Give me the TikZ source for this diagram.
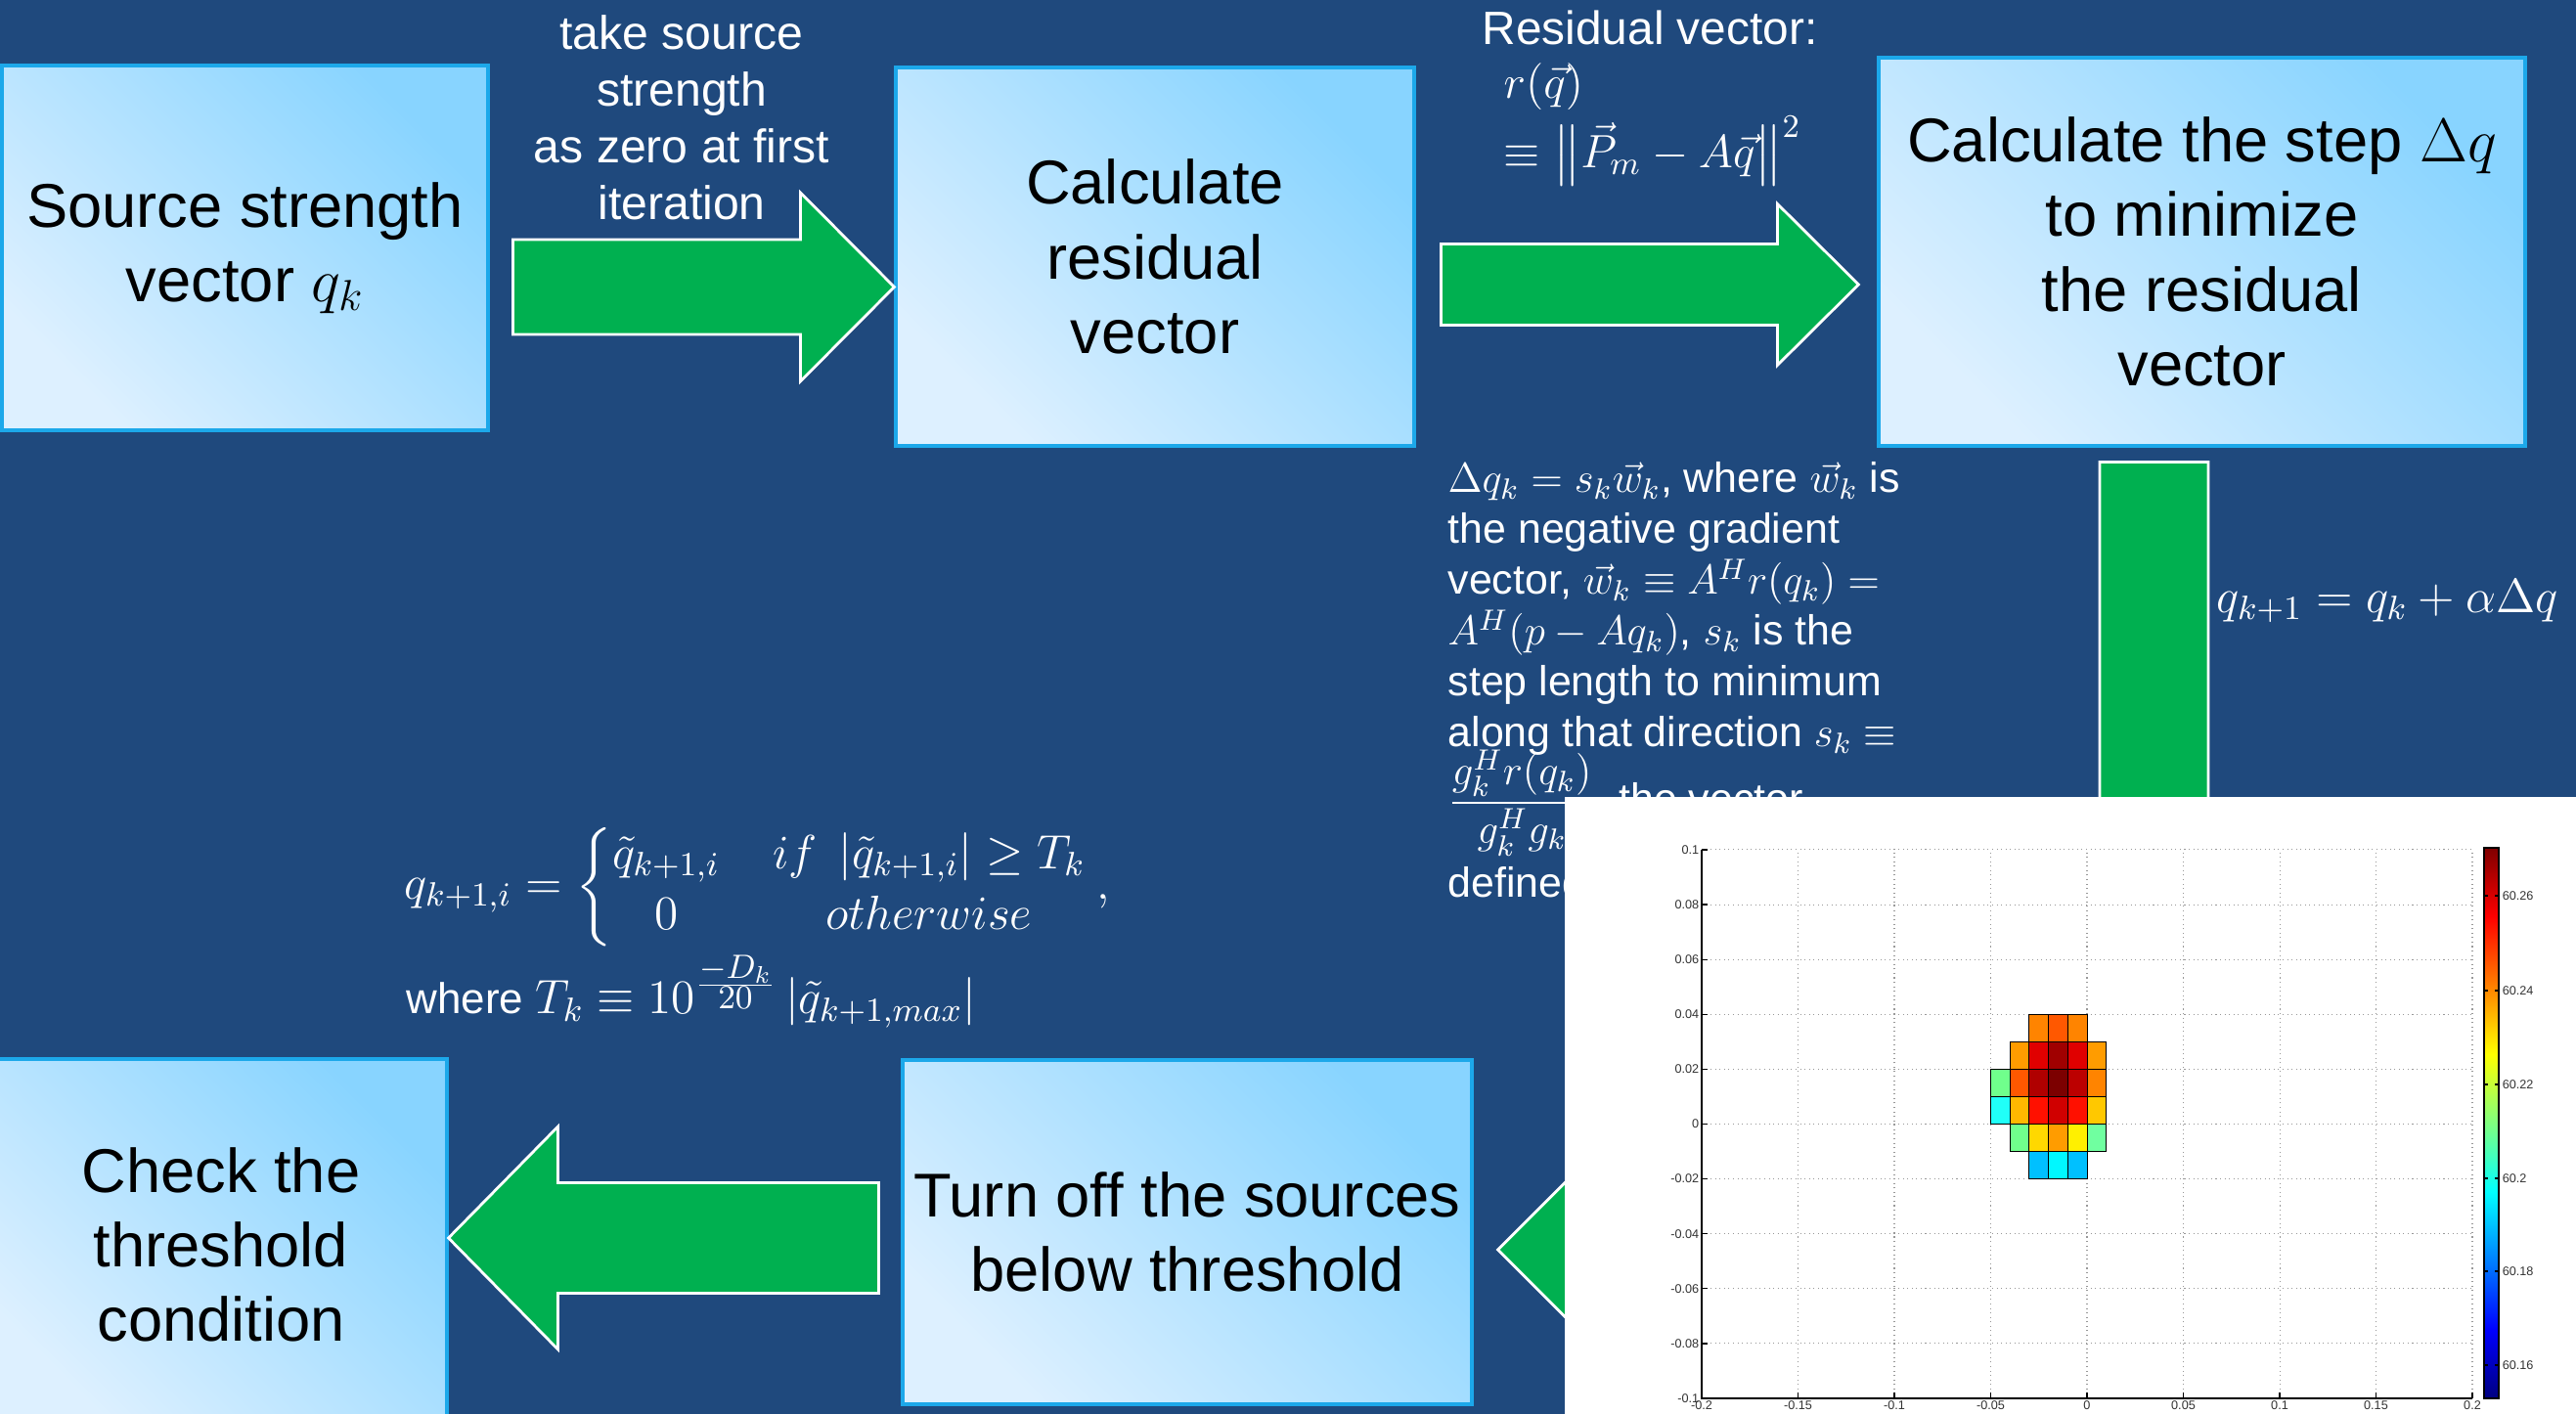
\RequirePackage{fix-cm}
\documentclass[tikz,border=0pt]{standalone}
\usepackage{amsmath}
\usepackage[no-math]{fontspec}
\setmainfont{Liberation Sans}
\usepackage{tikz}
\usetikzlibrary{calc}
\definecolor{slide}{HTML}{1F497D}
\definecolor{go}{HTML}{00B050}
\definecolor{edge}{HTML}{1CA8EA}
\definecolor{boxlo}{HTML}{DDF0FF}
\definecolor{boxhi}{HTML}{88D4FF}
% jet colours of the source map
\definecolor{jet0}{rgb}{0,0,0.5}
\definecolor{jet1}{rgb}{0,0,1}
\definecolor{jet2}{rgb}{0,1,1}
\definecolor{jet3}{rgb}{1,1,0}
\definecolor{jet4}{rgb}{1,0,0}
\definecolor{jet5}{rgb}{0.5,0,0}
\definecolor{jd1}{HTML}{7C0000}
\definecolor{jd2}{HTML}{A00000}
\definecolor{jd3}{HTML}{B00000}
\definecolor{jd4}{HTML}{BC0000}
\definecolor{jr1}{HTML}{E00000}
\definecolor{jr2}{HTML}{FF1000}
\definecolor{jr3}{HTML}{D00000}
\definecolor{jo1}{HTML}{FF5800}
\definecolor{jo2}{HTML}{FF8400}
\definecolor{jo3}{HTML}{FF9C00}
\definecolor{jy1}{HTML}{FFB800}
\definecolor{jy2}{HTML}{FFC800}
\definecolor{jy3}{HTML}{FFD800}
\definecolor{jy4}{HTML}{FFF000}
\definecolor{jg1}{HTML}{70FF8C}
\definecolor{jg2}{HTML}{70FFA0}
\definecolor{jc1}{HTML}{20FFF8}
\definecolor{jc2}{HTML}{00F8FF}
\definecolor{jb1}{HTML}{00C0FF}
% tikz fits the middle half (25bp..75bp) of a shading to the path
\pgfdeclareverticalshading{jetbar}{100bp}{color(0bp)=(jet0); color(25bp)=(jet0);
  color(31.25bp)=(jet1); color(43.75bp)=(jet2); color(56.25bp)=(jet3);
  color(68.75bp)=(jet4); color(75bp)=(jet5); color(100bp)=(jet5)}
\tikzset{
  stepbox/.style={draw=edge,line width=0.9pt,left color=boxlo,right color=boxhi,
    shading angle=135,inner sep=2pt,align=center,text=black,
    font={\fontsize{18}{21.7}\selectfont}},
  garrow/.style={fill=go,draw=white,line width=0.8pt,line join=miter},
  note/.style={inner sep=0pt,align=left,text=white},
  % --- the embedded source map ---
  gridl/.style={draw=black!40,densely dotted,line width=0.3pt},
  axl/.style={draw=black,line width=0.35pt},
  cell/.style={draw=black,line width=0.25pt},
  ticklab/.style={inner sep=0.6pt,text=black!80,font={\fontsize{3.6}{4}\selectfont}},
}
\begin{document}
\begin{tikzpicture}
  \useasboundingbox (0,0) rectangle (26.34,14.46);
  \fill[slide] (0,0) rectangle (26.34,14.46);
  % process boxes
  \node[stepbox,minimum width=4.97cm,minimum height=3.73cm] (src) at (2.505,11.925)
    {Source strength\\vector $q_k$};
  \node[stepbox,minimum width=5.30cm,minimum height=3.87cm] (res) at (11.81,11.835)
    {Calculate\\residual\\vector};
  \node[stepbox,minimum width=6.61cm,minimum height=3.97cm] (step) at (22.515,11.885)
    {Calculate the step $\Delta q$\\to minimize\\the residual\\vector};
  \node[stepbox,minimum width=5.82cm,minimum height=3.52cm] (turn) at (12.14,1.86)
    {Turn off the sources\\below threshold};
  \node[stepbox,minimum width=4.62cm,minimum height=3.80cm] (check) at (2.26,1.73)
    {Check the\\threshold\\condition};
  % block arrows, tip by tip
  \coordinate (t1) at ($(res.west)+(0,-0.31)$);
  \coordinate (t2) at ($(step.west)+(-0.19,-0.335)$);
  \coordinate (t3) at ($(step.south)+(-0.49,-5.41)$);
  \coordinate (t4) at ($(turn.east)+(0.25,-0.18)$);
  \coordinate (t5) at ($(check.east)+(0,0.07)$);
  \foreach \t/\a/\hl/\hh/\sh/\sl in {t1/0/0.96/0.965/0.485/2.94,t2/0/0.83/0.825/0.415/3.44,
      t3/-90/1.1/1.1/0.555/4.16,t4/180/1.12/1.12/0.56/2.2,t5/180/1.12/1.14/0.565/3.28}
    \draw[garrow,shift={(\t)},rotate=\a] (0,0) -- (-\hl,\hh) -- (-\hl,\sh) -- (-\hl-\sl,\sh)
      -- (-\hl-\sl,-\sh) -- (-\hl,-\sh) -- (-\hl,-\hh) -- cycle;
  % texts on the slide
  \node[note,align=center,font={\fontsize{13.7}{16.5}\selectfont}] (init) at (6.97,13.255)
    {take source\\strength\\as zero at first\\iteration};
  \node[note,anchor=north west,font={\fontsize{13.6}{15.6}\selectfont}] (resid) at (15.15,14.36)
    {Residual vector:\\\hspace*{0.22cm}$r(\vec q)$\\[1pt]
     \hspace*{0.22cm}$\equiv\bigl\|\vec P_m-A\vec q\bigr\|^2$};
  \node[note,anchor=north west,font={\fontsize{12.2}{14.8}\selectfont\lineskiplimit=-8pt}]
    (dq) at (14.80,9.74)
    {$\Delta q_k=s_k\vec w_k$, where $\vec w_k$ is\\
     the negative gradient\\
     vector, $\vec w_k\equiv A^H r(q_k)=$\\
     $A^H(p-Aq_k)$, $s_k$ is the\\
     step length to minimum\\
     along that direction $s_k\equiv$\\[0.16cm]
     $\dfrac{g_k^H r(q_k)}{g_k^H g_k}$, the vector\\[0.34cm]
     defined};
  \node[note,anchor=west,font={\fontsize{14}{16}\selectfont}] (upd) at (22.66,8.31)
    {$q_{k+1}=q_k+\alpha\Delta q$};
  \node[note,anchor=west,font={\fontsize{14}{17}\selectfont}] (thr) at (4.13,5.39)
    {$\renewcommand{\arraystretch}{1.05}q_{k+1,i}=\left\{\begin{array}{@{}c@{\hspace{1.1em}}c@{}}
      \tilde q_{k+1,i} & if\ \left|\tilde q_{k+1,i}\right|\geq T_k\\
      0 & otherwise\end{array}\right.,$};
  \node[note,anchor=base west,font={\fontsize{12.5}{15}\selectfont}] (tdef) at (4.15,4.09)
    {where {\fontsize{14}{17}\selectfont$T_k\equiv 10^{\frac{\scriptstyle -D_k}{\scriptstyle 20}}
      \left|\tilde q_{k+1,max}\right|$}};
  % source map on top
  \fill[white] (16.00,0) rectangle (26.34,6.31);
  \begin{scope}[shift={(21.34,2.965)},x=19.7cm,y=28.05cm]
    \foreach \gx in {-0.15,-0.1,-0.05,0,0.05,0.1,0.15,0.2}
      \draw[gridl] (\gx,-0.1) -- (\gx,0.1);
    \foreach \gy in {-0.08,-0.06,-0.04,-0.02,0,0.02,0.04,0.06,0.08,0.1}
      \draw[gridl] (-0.2,\gy) -- (0.2,\gy);
    \foreach \cx/\cy/\hue in {-0.03/0.03/jo2,-0.02/0.03/jo1,-0.01/0.03/jo2,
        -0.04/0.02/jo3,-0.03/0.02/jr1,-0.02/0.02/jd2,-0.01/0.02/jr1,0/0.02/jo3,
        -0.05/0.01/jg1,-0.04/0.01/jo1,-0.03/0.01/jd3,-0.02/0.01/jd1,-0.01/0.01/jd4,0/0.01/jo2,
        -0.05/0/jc1,-0.04/0/jy1,-0.03/0/jr2,-0.02/0/jr3,-0.01/0/jr2,0/0/jy2,
        -0.04/-0.01/jg1,-0.03/-0.01/jy3,-0.02/-0.01/jo3,-0.01/-0.01/jy4,0/-0.01/jg2,
        -0.03/-0.02/jb1,-0.02/-0.02/jc2,-0.01/-0.02/jb1}
      \filldraw[cell,fill=\hue] (\cx,\cy) rectangle ++(0.01,0.01);
    \draw[axl] (-0.2,0.1) -- (-0.2,-0.1) -- (0.2,-0.1);
    \foreach \gx [count=\i] in {-0.2,-0.15,-0.1,-0.05,0,0.05,0.1,0.15,0.2} {
      \draw[axl] (\gx,-0.1) -- ++(0,0.002);
      \node[ticklab,below] (xl\i) at (\gx,-0.1) {\gx};
    }
    \foreach \gy [count=\i] in {-0.1,-0.08,-0.06,-0.04,-0.02,0,0.02,0.04,0.06,0.08,0.1} {
      \draw[axl] (-0.2,\gy) -- ++(0.003,0);
      \node[ticklab,left] (yl\i) at (-0.2,\gy) {\gy};
    }
  \end{scope}
  % colour bar
  \shade[shading=jetbar] (25.40,0.16) rectangle (25.55,5.79);
  \draw[axl] (25.40,0.16) rectangle (25.55,5.79);
  \foreach \v/\yy [count=\i] in {60.26/5.30,60.24/4.33,60.22/3.37,60.2/2.41,60.18/1.46,60.16/0.50} {
    \draw[axl] (25.40,\yy) -- ++(0.04,0) (25.55,\yy) -- ++(-0.04,0);
    \node[ticklab,right] (cl\i) at (25.56,\yy) {\v};
  }
\end{tikzpicture}
\end{document}
